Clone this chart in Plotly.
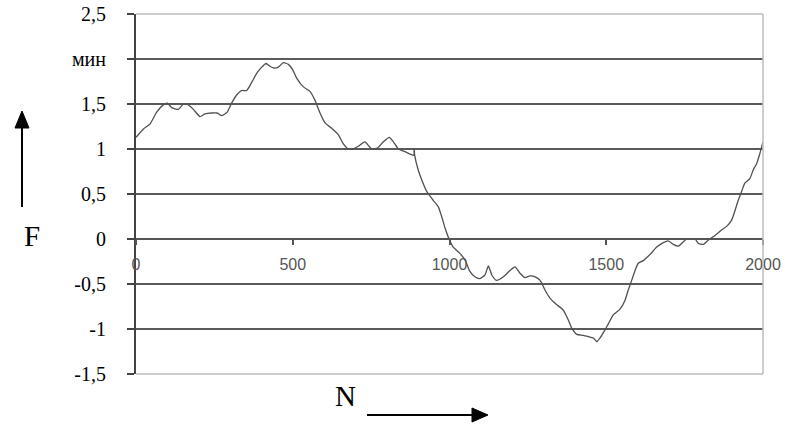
import plotly.graph_objects as go

N = [0, 23, 45, 66, 87, 100, 114, 135, 151, 167, 183, 204, 220, 241, 259, 273, 291, 305, 321, 337,
     353, 369, 385, 401, 415, 427, 440, 454, 470, 486, 500, 512, 534, 555, 571, 587, 603, 624, 645, 661,
     677, 693, 709, 730, 752, 770, 789, 808, 821, 837, 858, 886, 887, 889, 900, 911, 927, 948, 964, 975,
     986, 1000, 1012, 1033, 1049, 1065, 1081, 1097, 1113, 1124, 1135, 1150, 1172, 1193, 1209, 1225, 1241, 1257, 1273, 1289,
     1305, 1321, 1342, 1363, 1379, 1390, 1406, 1427, 1448, 1459, 1470, 1480, 1496, 1507, 1523, 1544, 1560, 1570, 1581, 1592,
     1602, 1618, 1640, 1661, 1682, 1698, 1714, 1730, 1746, 1757, 1783, 1794, 1810, 1826, 1847, 1868, 1884, 1900, 1911, 1921,
     1932, 1942, 1958, 1969, 1980, 1990, 2000]
F = [1.13, 1.22, 1.28, 1.41, 1.49, 1.51, 1.46, 1.44, 1.50, 1.49, 1.44, 1.36, 1.39, 1.40, 1.40, 1.37, 1.41, 1.51, 1.60, 1.65,
     1.65, 1.74, 1.84, 1.91, 1.95, 1.92, 1.90, 1.91, 1.96, 1.94, 1.88, 1.79, 1.69, 1.64, 1.54, 1.40, 1.29, 1.23, 1.16, 1.06,
     1.00, 1.00, 1.03, 1.08, 1.00, 1.01, 1.08, 1.13, 1.08, 1.00, 0.97, 0.93, 1.00, 0.93, 0.77, 0.66, 0.53, 0.43, 0.36, 0.25,
     0.12, -0.01, -0.09, -0.16, -0.23, -0.36, -0.42, -0.44, -0.40, -0.30, -0.40, -0.46, -0.42, -0.35, -0.31, -0.38, -0.43, -0.41, -0.42, -0.46,
     -0.57, -0.66, -0.73, -0.79, -0.90, -0.99, -1.06, -1.07, -1.09, -1.10, -1.14, -1.10, -1.01, -0.94, -0.84, -0.78, -0.68, -0.57, -0.46, -0.35,
     -0.27, -0.24, -0.17, -0.09, -0.04, -0.02, -0.06, -0.08, -0.03, 0.00, 0.00, -0.05, -0.06, -0.01, 0.04, 0.10, 0.14, 0.21, 0.32, 0.43,
     0.53, 0.62, 0.67, 0.77, 0.84, 0.95, 1.08]
assert len(N) == len(F), (len(N), len(F))

Y_TICKS = [-1.5, -1, -0.5, 0, 0.5, 1, 1.5, 2, 2.5]
Y_LABELS = ["-1,5", "-1", "-0,5", "0", "0,5", "1", "1,5", "мин", "2,5"]
X_TICKS = [0, 500, 1000, 1500, 2000]
X_LABELS = ["0", "500", "1000", "1500", "2000"]

W, H = 785, 430
L, R, T, B = 136, 763, 14, 374


def px(x):
    return (x - L) / (R - L)


def py(y):
    return (B - y) / (B - T)


fig = go.Figure()
fig.add_trace(go.Scatter(x=N, y=F, mode="lines", line_shape="spline",
                         line=dict(color="#505050", width=1.3, smoothing=0.5),
                         showlegend=False, hoverinfo="skip"))

fig.update_layout(
    width=W, height=H,
    margin=dict(l=L, r=W - R, t=T, b=H - B),
    paper_bgcolor="white", plot_bgcolor="white",
    xaxis=dict(range=[0, 2000], tickvals=X_TICKS, ticktext=X_LABELS, automargin=False,
               anchor="free", position=1.5 / 4.0,
               showgrid=False, zeroline=False, showline=True, linecolor="#555555", linewidth=1.5,
               ticks="outside", ticklen=5, tickcolor="#555555", tickwidth=1.5,
               ticklabelstandoff=6,
               tickfont=dict(family="Liberation Sans, Arial", size=16, color="#555555")),
    yaxis=dict(range=[-1.5, 2.5], tickvals=Y_TICKS, ticktext=Y_LABELS, automargin=False,
               showgrid=True, gridcolor="#5a5a5a", gridwidth=1.6,
               zeroline=False, showline=True, linecolor="#444444", linewidth=2,
               ticks="outside", ticklen=7, tickcolor="#444444", tickwidth=1.5,
               ticklabelstandoff=17,
               tickfont=dict(family="Liberation Serif, Times New Roman", size=20, color="black")),
)

# light frame: top, right, bottom
for (x0, y0, x1, y1) in [(L, T, R, T), (R, T, R, B), (L, B, R, B)]:
    fig.add_shape(type="line", xref="paper", yref="paper",
                  x0=px(x0), y0=py(y0), x1=px(x1), y1=py(y1),
                  line=dict(color="#bdbdbd", width=1.5))

# F with up arrow
fig.add_annotation(text="F", xref="paper", yref="paper", x=px(22), y=py(236),
                   showarrow=False, font=dict(family="Liberation Serif", size=29, color="black"))
fig.add_shape(type="line", xref="paper", yref="paper", x0=px(22), y0=py(207), x1=px(22), y1=py(126),
              line=dict(color="black", width=2))
fig.add_shape(type="path", xref="paper", yref="paper",
              path=f"M {px(22)} {py(111)} L {px(15)} {py(128)} L {px(29)} {py(128)} Z",
              fillcolor="black", line=dict(color="black", width=1))

# N with right arrow
fig.add_annotation(text="N", xref="paper", yref="paper", x=px(345), y=py(414),
                   showarrow=False, font=dict(family="Liberation Serif", size=29, color="black"))
fig.add_shape(type="line", xref="paper", yref="paper", x0=px(367), y0=py(415), x1=px(474), y1=py(415),
              line=dict(color="black", width=2))
fig.add_shape(type="path", xref="paper", yref="paper",
              path=f"M {px(488)} {py(415)} L {px(472)} {py(408)} L {px(472)} {py(422)} Z",
              fillcolor="black", line=dict(color="black", width=1))

fig.write_html("out.html")
